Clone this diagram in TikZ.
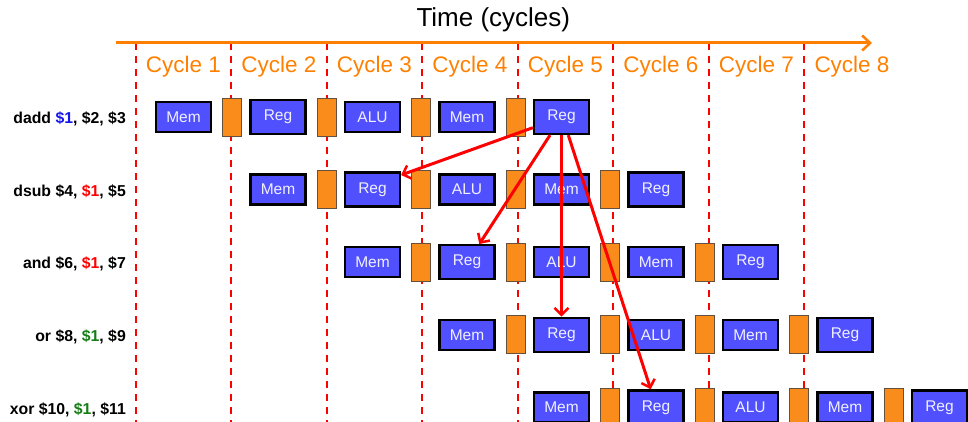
\documentclass[tikz,border=0pt]{standalone}
\usepackage{fontspec}
\setmainfont{Liberation Sans}
\usetikzlibrary{arrows.meta}
\definecolor{stageblue}{RGB}{80,80,255}
\definecolor{latchorange}{RGB}{250,140,28}
\definecolor{latchedge}{RGB}{100,80,60}
\definecolor{axisorange}{RGB}{255,128,0}
\definecolor{hazardred}{RGB}{255,0,0}
\definecolor{srcblue}{RGB}{20,20,235}
\definecolor{srcgreen}{RGB}{20,125,20}
\definecolor{boxtext}{RGB}{240,240,255}
\tikzset{
  stagebox/.style={draw=black, line width=2.3pt, fill=stageblue, text=boxtext,
    minimum width=55pt, minimum height=30pt, inner sep=0pt,
    font=\fontsize{15.5}{18}\selectfont},
  Mem/.style={}, ALU/.style={}, Reg/.style={minimum height=34pt},
  latch/.style={draw=latchedge, line width=0.9pt, fill=latchorange,
    minimum width=19pt, minimum height=38pt, inner sep=0pt},
  cyclelabel/.style={text=axisorange, anchor=base, inner sep=0pt,
    font=\fontsize{22.5}{26}\selectfont},
  instr/.style={anchor=base east, inner sep=0pt,
    font=\fontsize{15.8}{18}\selectfont\bfseries},
  cycleline/.style={hazardred, line width=2.2pt, dash pattern=on 7pt off 6pt},
  forward/.style={hazardred, line width=3pt,
    -{Straight Barb[length=7pt,width=14pt,line width=2.5pt]}},
}
\begin{document}
\begin{tikzpicture}[x=1pt,y=-1pt]
\useasboundingbox (0,0) rectangle (968,422);
\clip (0,0) rectangle (968,422);

% title
\node[anchor=base, inner sep=0pt, font=\fontsize{26}{30}\selectfont]
  (title) at (493.3,26.7) {Time (cycles)};

% cycle boundaries
\foreach \k in {0,...,7} {
  \coordinate (top\k) at (135.7+95.5*\k,43);
  \coordinate (bot\k) at (135.7+95.5*\k,422);
  \draw[cycleline] (top\k) -- (bot\k);
}

% time axis
\coordinate (axisstart) at (116,43);
\coordinate (axisend) at (872,43);
\draw[axisorange, line width=3pt,
  -{Straight Barb[length=8pt,width=15pt,line width=2.5pt]}] (axisstart) -- (axisend);

% cycle labels
\foreach \k in {1,...,8} {
  \node[cyclelabel] (cyc\k) at (183.5+95.5*\k-95.5,72.5) {Cycle \k};
}

% instruction labels
\node[instr] (i0) at (126,123.5) {dadd \textcolor{srcblue}{\$1}, \$2, \$3};
\node[instr] (i1) at (126,196.3) {dsub \$4, \textcolor{hazardred}{\$1}, \$5};
\node[instr] (i2) at (126,268.9) {and \$6, \textcolor{hazardred}{\$1}, \$7};
\node[instr] (i3) at (126,341.5) {or \$8, \textcolor{srcgreen}{\$1}, \$9};
\node[instr] (i4) at (126,414.1) {xor \$10, \textcolor{srcgreen}{\$1}, \$11};

% pipeline stages and pipeline registers
\foreach \r in {0,...,4} {
  \pgfmathsetmacro\ry{117+72.6*\r}
  \foreach \st [count=\s from 0] in {Mem,Reg,ALU,Mem,Reg} {
    \pgfmathsetmacro\cx{183.5+94.5*(\r+\s)}
    \node[stagebox,\st] (b\r s\s) at (\cx,\ry) {\st};
  }
  \foreach \s in {0,...,3} {
    \pgfmathsetmacro\lx{232+94.5*(\r+\s)}
    \node[latch] (l\r s\s) at (\lx,\ry) {};
  }
}

% forwarding of $1
\draw[forward] ([yshift=-10.7pt]b0s4.west) -- ([yshift=14.6pt]b1s1.east);
\draw[forward] ([xshift=-11.5pt]b0s4.south) -- ([xshift=12.3pt]b2s1.north);
\draw[forward] (b0s4.south) -- (b3s1.north);
\draw[forward] ([xshift=6.8pt]b0s4.south) -- ([xshift=-5.3pt]b4s1.north);
\end{tikzpicture}
\end{document}
